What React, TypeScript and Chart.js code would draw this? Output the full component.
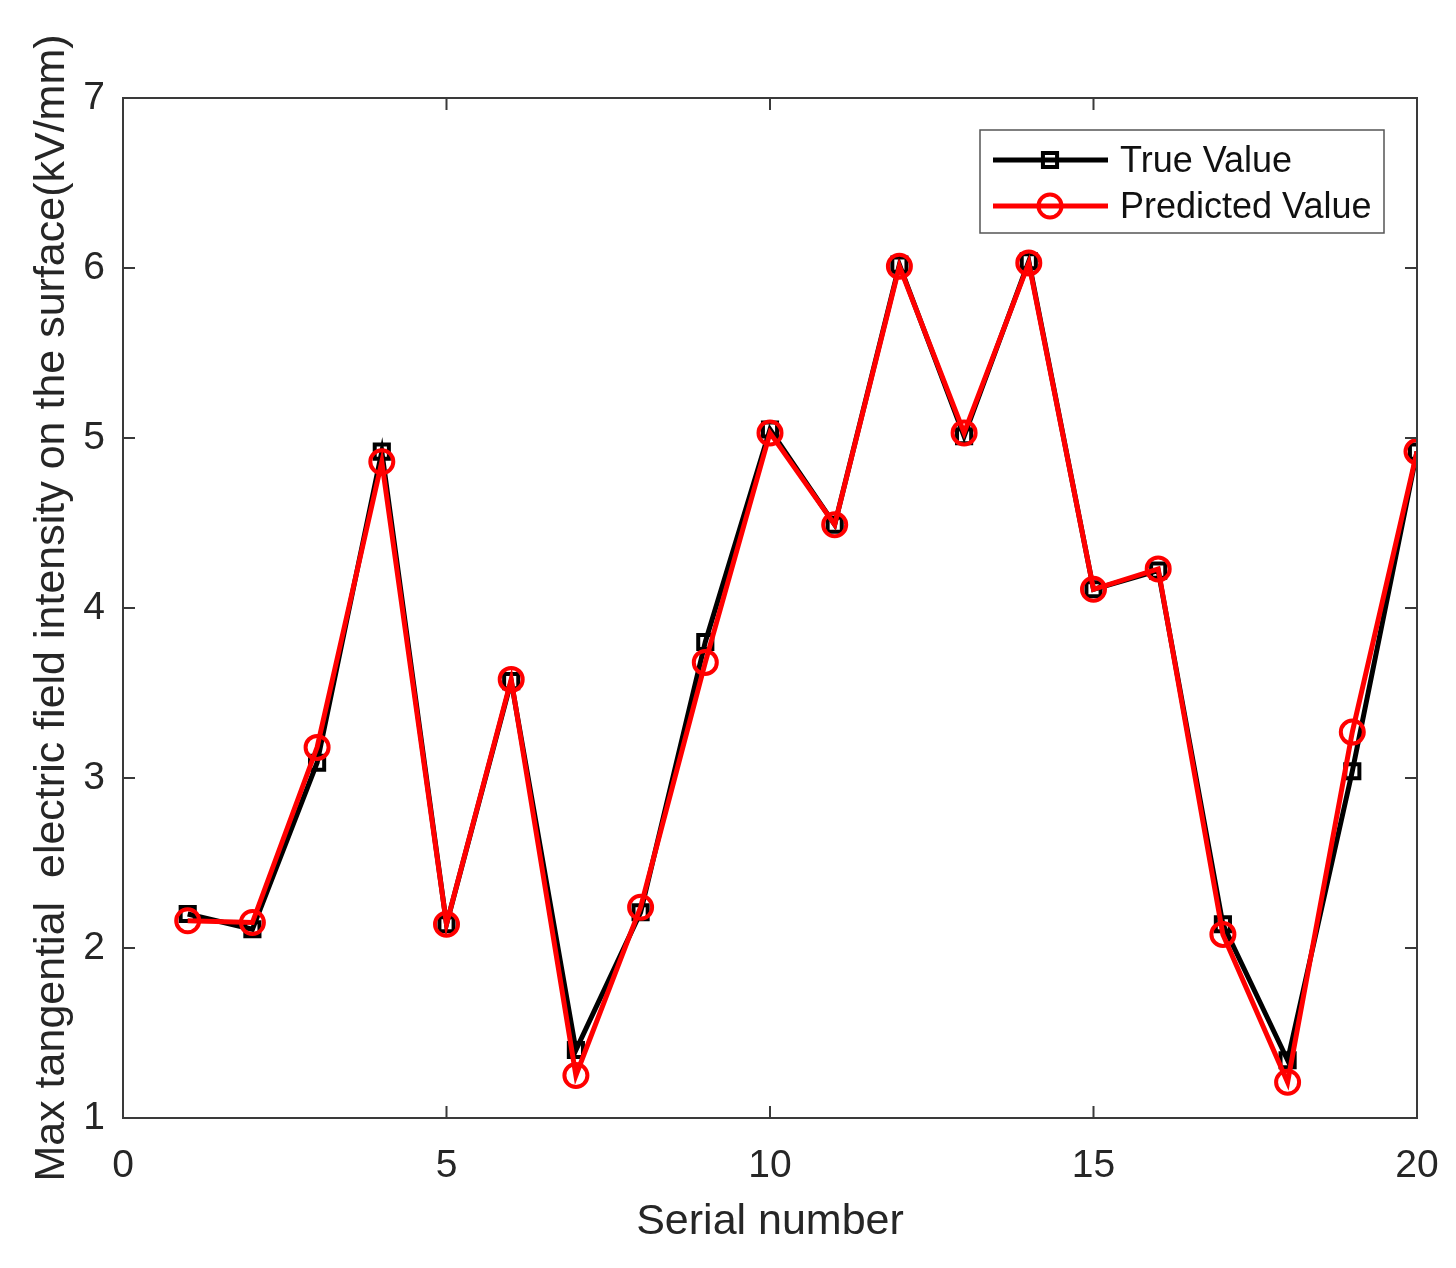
import { useEffect, useRef } from 'react';
import Chart from 'chart.js/auto';

const serial = [1, 2, 3, 4, 5, 6, 7, 8, 9, 10, 11, 12, 13, 14, 15, 16, 17, 18, 19, 20];
const trueValues = [2.2, 2.11, 3.09, 4.92, 2.14, 3.57, 1.4, 2.21, 3.8, 5.05, 4.49, 6.02, 5.01, 6.04, 4.11, 4.22, 2.14, 1.34, 3.04, 4.92];
const predictedValues = [2.16, 2.15, 3.18, 4.86, 2.14, 3.58, 1.25, 2.24, 3.68, 5.03, 4.49, 6.01, 5.03, 6.03, 4.11, 4.23, 2.08, 1.21, 3.27, 4.92];
const seriesLabels = ['True Value', 'Predicted Value'];

const FONT = "'Liberation Sans', Arial, Helvetica, sans-serif";
const AXIS_COLOR = '#262626';

// MATLAB style box with inward ticks on all four sides
const boxPlugin = {
  id: 'matlabBox',
  afterDatasetsDraw(chart: any) {
    const { ctx, chartArea } = chart;
    const { left, right, top, bottom } = chartArea;
    const xs = chart.scales.x;
    const ys = chart.scales.y;
    const len = 12;
    ctx.save();
    ctx.strokeStyle = '#3a3a3a';
    ctx.lineWidth = 2;
    ctx.strokeRect(left, top, right - left, bottom - top);
    ctx.beginPath();
    xs.ticks.forEach((t: any) => {
      const px = xs.getPixelForValue(t.value);
      ctx.moveTo(px, bottom);
      ctx.lineTo(px, bottom - len);
      ctx.moveTo(px, top);
      ctx.lineTo(px, top + len);
    });
    ys.ticks.forEach((t: any) => {
      const py = ys.getPixelForValue(t.value);
      ctx.moveTo(left, py);
      ctx.lineTo(left + len, py);
      ctx.moveTo(right, py);
      ctx.lineTo(right - len, py);
    });
    ctx.stroke();
    ctx.restore();
  },
};

// legend drawn like MATLAB: line with marker in the middle
const legendPlugin = {
  id: 'matlabLegend',
  afterDraw(chart: any) {
    const { ctx, chartArea } = chart;
    const w = 404;
    const h = 103;
    const x0 = chartArea.right - 33 - w;
    const y0 = chartArea.top + 32;
    ctx.save();
    ctx.fillStyle = '#ffffff';
    ctx.fillRect(x0, y0, w, h);
    ctx.strokeStyle = '#555555';
    ctx.lineWidth = 1.5;
    ctx.strokeRect(x0, y0, w, h);
    chart.data.datasets.forEach((ds: any, i: number) => {
      const cy = y0 + 30 + i * 46;
      ctx.strokeStyle = ds.borderColor;
      ctx.lineWidth = ds.borderWidth;
      ctx.beginPath();
      ctx.moveTo(x0 + 13, cy);
      ctx.lineTo(x0 + 128, cy);
      ctx.stroke();
      ctx.lineWidth = ds.pointBorderWidth;
      ctx.fillStyle = '#ffffff';
      ctx.beginPath();
      if (ds.pointStyle === 'rect') {
        const s = ds.pointRadius * Math.SQRT1_2;
        ctx.rect(x0 + 70 - s, cy - s, 2 * s, 2 * s);
      } else {
        ctx.arc(x0 + 70, cy, ds.pointRadius, 0, Math.PI * 2);
      }
      ctx.stroke();
      ctx.fillStyle = '#111111';
      ctx.font = `36px ${FONT}`;
      ctx.textBaseline = 'middle';
      ctx.textAlign = 'left';
      ctx.fillText(ds.label, x0 + 140, cy + 2);
    });
    ctx.restore();
  },
};

export default function App() {
  const canvasRef = useRef<HTMLCanvasElement | null>(null);
  const chartRef = useRef<Chart | null>(null);

  useEffect(() => {
    document.body.style.margin = '0';
    document.body.style.background = '#ffffff';
    if (chartRef.current) chartRef.current.destroy();
    if (!canvasRef.current) return;

    chartRef.current = new Chart(canvasRef.current, {
      type: 'line',
      data: {
        datasets: [
          {
            label: seriesLabels[0],
            data: serial.map((s, i) => ({ x: s, y: trueValues[i] })),
            borderColor: '#000000',
            borderWidth: 5,
            pointStyle: 'rect',
            pointRadius: 10,
            pointBorderWidth: 4,
            pointBackgroundColor: 'rgba(0,0,0,0)',
            pointBorderColor: '#000000',
            order: 2,
          },
          {
            label: seriesLabels[1],
            data: serial.map((s, i) => ({ x: s, y: predictedValues[i] })),
            borderColor: '#ff0000',
            borderWidth: 5,
            pointStyle: 'circle',
            pointRadius: 11.5,
            pointBorderWidth: 4,
            pointBackgroundColor: 'rgba(0,0,0,0)',
            pointBorderColor: '#ff0000',
            order: 1,
          },
        ],
      },
      options: {
        animation: false,
        responsive: true,
        maintainAspectRatio: false,
        layout: { padding: { top: 98, right: 39, left: 0, bottom: 0 } },
        plugins: {
          legend: { display: false },
          tooltip: { enabled: false },
        },
        scales: {
          x: {
            type: 'linear',
            min: 0,
            max: 20,
            grid: { display: false, drawTicks: false },
            border: { display: false },
            ticks: {
              stepSize: 5,
              padding: 25,
              color: AXIS_COLOR,
              font: { family: FONT, size: 39 },
              maxRotation: 0,
            },
            title: {
              display: true,
              text: 'Serial number',
              color: AXIS_COLOR,
              font: { family: FONT, size: 43 },
              padding: { top: 0, bottom: 20 },
            },
            afterFit(scale: any) {
              scale.height = 150;
              scale.paddingLeft = 0;
              scale.paddingRight = 0;
            },
          },
          y: {
            min: 1,
            max: 7,
            grid: { display: false, drawTicks: false },
            border: { display: false },
            ticks: {
              stepSize: 1,
              padding: 18,
              color: AXIS_COLOR,
              font: { family: FONT, size: 39 },
            },
            title: {
              display: true,
              text: 'Max tangential  electric field intensity on the surface(kV/mm)',
              color: AXIS_COLOR,
              font: { family: FONT, size: 43 },
              padding: { top: 26, bottom: 0 },
            },
            afterFit(scale: any) {
              scale.width = 123;
              scale.paddingTop = 0;
              scale.paddingBottom = 0;
            },
          },
        },
      },
      plugins: [boxPlugin, legendPlugin],
    });

    return () => {
      if (chartRef.current) {
        chartRef.current.destroy();
        chartRef.current = null;
      }
    };
  }, []);

  return (
    <div style={{ position: 'relative', width: '1456px', height: '1268px' }}>
      <canvas ref={canvasRef}></canvas>
    </div>
  );
}
